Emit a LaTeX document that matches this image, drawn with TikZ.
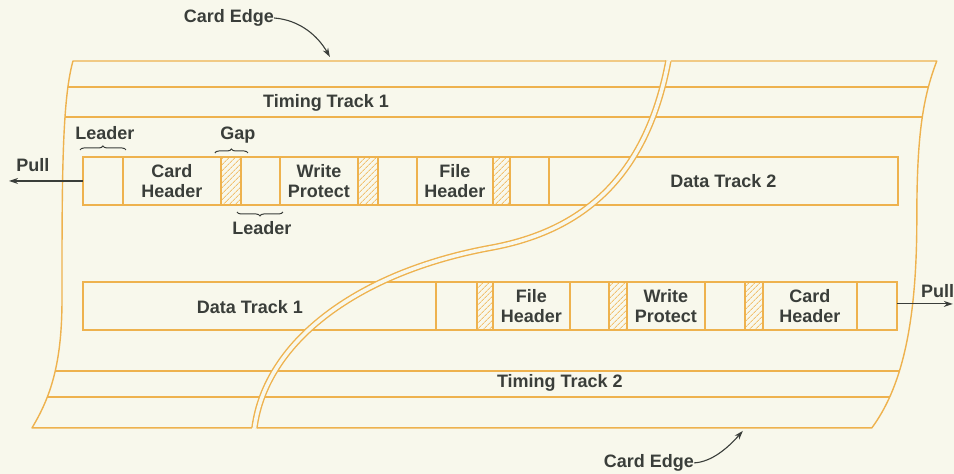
\documentclass[tikz,border=0pt]{standalone}
\usepackage{fontspec}
\setmainfont{Liberation Sans}
\usepackage{tikz}
\usetikzlibrary{arrows.meta,patterns.meta,decorations.pathreplacing}
\definecolor{cardbg}{RGB}{248,248,236}
\definecolor{strip}{RGB}{238,178,78}
\definecolor{ink}{RGB}{58,62,58}
\begin{document}
\begin{tikzpicture}[x=1pt,y=-1pt,font=\bfseries\fontsize{18}{20}\selectfont,edge/.style={draw=strip,line width=1.4pt,line join=round},cell/.style={draw=strip,line width=1.4pt,inner sep=0pt,outer sep=0pt,minimum height=48pt,align=center,text=ink},gapcell/.style={cell,pattern={Lines[angle=45,distance=4pt,line width=0.9pt]},pattern color=strip!80},lbl/.style={text=ink,inner sep=0pt,align=center},brc/.style={draw=ink,line width=1pt,decorate,decoration={brace,amplitude=4pt}},arr/.style={draw=ink,line width=1.1pt,-{Stealth[length=9pt,width=6pt]}}]
\fill[cardbg] (0,0) rectangle (954,474);
\begin{scope}
\clip (73,61) -- (937,61) .. controls (922,100) and (917,140) .. (917,220) .. controls (917,330) and (900,390) .. (872,428) -- (32,428) .. controls (50,398) and (62,365) .. (62,300) .. controls (62,180) and (62,100) .. (73,61) -- cycle;
\foreach \y in {87,117,371,397} \draw[edge] (0,\y) -- (954,\y);
\end{scope}
\draw[edge] (666,61) -- (73,61) .. controls (62,100) and (62,180) .. (62,300) .. controls (62,365) and (50,398) .. (32,428) -- (252,428);
\draw[edge] (671,61) -- (937,61) .. controls (922,100) and (917,140) .. (917,220) .. controls (917,330) and (900,390) .. (872,428) -- (257,428);
\node[cell,minimum width=40pt] (ldA1) at (103,181) {};
\node[cell,minimum width=98pt] (chA) at (172,181) {Card\\Header};
\node[gapcell,minimum width=20pt] (gpA1) at (231,181) {};
\node[cell,minimum width=39pt] (ldA2) at (260.5,181) {};
\node[cell,minimum width=78pt] (wpA) at (319,181) {Write\\Protect};
\node[gapcell,minimum width=20pt] (gpA2) at (368,181) {};
\node[cell,minimum width=39pt] (ldA3) at (397.5,181) {};
\node[cell,minimum width=76pt] (fhA) at (455,181) {File\\Header};
\node[gapcell,minimum width=17pt] (gpA3) at (501.5,181) {};
\node[cell,minimum width=39pt] (ldA4) at (529.5,181) {};
\node[cell,minimum width=349pt] (dtA) at (723.5,181) {Data Track 2};
\node[cell,minimum width=353pt] (dtB) at (259.5,306) {};
\node[cell,minimum width=41pt] (ldB1) at (456.5,306) {};
\node[gapcell,minimum width=16pt] (gpB1) at (485,306) {};
\node[cell,minimum width=77pt] (fhB) at (531.5,306) {File\\Header};
\node[cell,minimum width=39pt] (ldB2) at (589.5,306) {};
\node[gapcell,minimum width=18pt] (gpB2) at (618,306) {};
\node[cell,minimum width=78pt] (wpB) at (666,306) {Write\\Protect};
\node[cell,minimum width=40pt] (ldB3) at (725,306) {};
\node[gapcell,minimum width=18pt] (gpB3) at (754,306) {};
\node[cell,minimum width=94pt] (chB) at (810,306) {Card\\Header};
\node[cell,minimum width=40pt] (ldB4) at (877,306) {};
\draw[edge,double=cardbg,double distance=3.6pt] (668.5,61) .. controls (648,170) and (590,230) .. (490,248) .. controls (360,272) and (266,340) .. (254.5,428);
\node[lbl] (dt1) at (250,307) {Data Track 1};
\node[lbl] (tt1) at (326,103) {Timing Track 1};
\node[lbl] (tt2) at (560,383) {Timing Track 2};
\node[lbl] (ldTop) at (105,133) {Leader};
\node[lbl] (gapTop) at (238,135) {Gap};
\node[lbl] (ldBot) at (262,228) {Leader};
\draw[brc] ([shift={(-3,-7)}]ldA1.north west) -- ([shift={(3,-7)}]ldA1.north east);
\draw[brc] ([shift={(-6,-4)}]gpA1.north west) -- ([shift={(7,-4)}]gpA1.north east);
\draw[brc] ([shift={(3,7)}]ldA2.south east) -- ([shift={(-4,7)}]ldA2.south west);
\node[lbl] (pullL) at (33,165) {Pull};\coordinate (tipL) at (9,181);
\node[lbl,anchor=west] (pullR) at (921,291) {Pull};\coordinate (tipR) at (953,304);
\draw[arr] (ldA1.west) -- (tipL);\draw[arr] ([yshift=2pt]ldB4.east) -- (tipR);
\node[lbl] (ceTop) at (229,18) {Card Edge};\coordinate (edgeTop) at (330,57);
\node[lbl] (ceBot) at (649,463) {Card Edge};\coordinate (edgeBot) at (743,431);
\draw[arr] (ceTop.east) .. controls (300,20) and (318,36) .. (edgeTop);
\draw[arr] (ceBot.east) .. controls (712,462) and (728,448) .. (edgeBot);
\end{tikzpicture}
\end{document}
